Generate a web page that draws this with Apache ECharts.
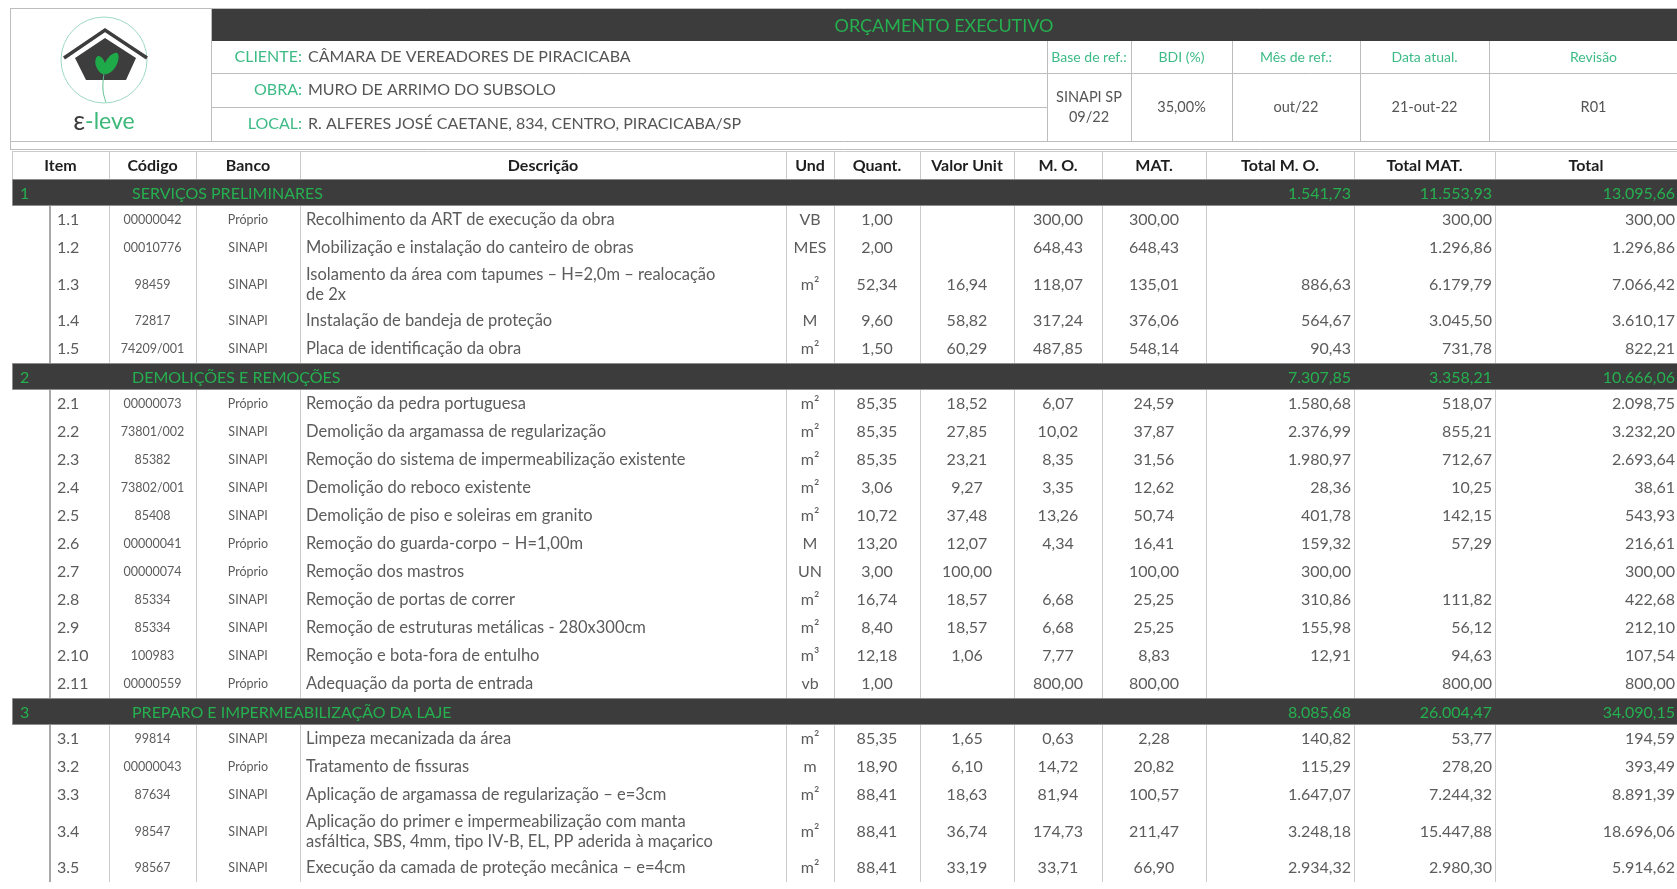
<!DOCTYPE html>
<html>
<head>
<meta charset="utf-8">
<script src="https://cdn.jsdelivr.net/npm/echarts@6/dist/echarts.min.js"></script>
<style>
html, body { margin: 0; padding: 0; background: #fff; }
#chart { width: 1677px; height: 889px; }
</style>
</head>
<body>
<div id="chart"></div>
<script>
// ---- data ----
const infoLabels = ['CLIENTE:', 'OBRA:', 'LOCAL:'];
const infoValues = ['CÂMARA DE VEREADORES DE PIRACICABA', 'MURO DE ARRIMO DO SUBSOLO', 'R. ALFERES JOSÉ CAETANE, 834, CENTRO, PIRACICABA/SP'];
const refLabels = ['Base de ref.:', 'BDI (%)', 'Mês de ref.:', 'Data atual.', 'Revisão'];
const refValues = ['SINAPI SP\n09/22', '35,00%', 'out/22', '21-out-22', 'R01'];

const headerLabels = ['Item', 'Código', 'Banco', 'Descrição', 'Und', 'Quant.', 'Valor Unit', 'M. O.', 'MAT.', 'Total M. O.', 'Total MAT.', 'Total'];

const sectionNums = [1, 2, 3];
const sectionTitles = ['SERVIÇOS PRELIMINARES', 'DEMOLIÇÕES E REMOÇÕES', 'PREPARO E IMPERMEABILIZAÇÃO DA LAJE'];
const sectionTotalMO = [1541.73, 7307.85, 8085.68];
const sectionTotalMAT = [11553.93, 3358.21, 26004.47];
const sectionTotal = [13095.66, 10666.06, 34090.15];

const itemNums = ['1.1', '1.2', '1.3', '1.4', '1.5',
    '2.1', '2.2', '2.3', '2.4', '2.5', '2.6', '2.7', '2.8', '2.9', '2.10', '2.11',
    '3.1', '3.2', '3.3', '3.4', '3.5'];
const codigos = ['00000042', '00010776', '98459', '72817', '74209/001',
    '00000073', '73801/002', '85382', '73802/001', '85408', '00000041', '00000074', '85334', '85334', '100983', '00000559',
    '99814', '00000043', '87634', '98547', '98567'];
const bancos = ['Próprio', 'SINAPI', 'SINAPI', 'SINAPI', 'SINAPI',
    'Próprio', 'SINAPI', 'SINAPI', 'SINAPI', 'SINAPI', 'Próprio', 'Próprio', 'SINAPI', 'SINAPI', 'SINAPI', 'Próprio',
    'SINAPI', 'Próprio', 'SINAPI', 'SINAPI', 'SINAPI'];
const descricoes = [
    'Recolhimento da ART de execução da obra',
    'Mobilização e instalação do canteiro de obras',
    'Isolamento da área com tapumes – H=2,0m – realocação\nde 2x',
    'Instalação de bandeja de proteção',
    'Placa de identificação da obra',
    'Remoção da pedra portuguesa',
    'Demolição da argamassa de regularização',
    'Remoção do sistema de impermeabilização existente',
    'Demolição do reboco existente',
    'Demolição de piso e soleiras em granito',
    'Remoção do guarda-corpo – H=1,00m',
    'Remoção dos mastros',
    'Remoção de portas de correr',
    'Remoção de estruturas metálicas - 280x300cm',
    'Remoção e bota-fora de entulho',
    'Adequação da porta de entrada',
    'Limpeza mecanizada da área',
    'Tratamento de fissuras',
    'Aplicação de argamassa de regularização – e=3cm',
    'Aplicação do primer e impermeabilização com manta\nasfáltica, SBS, 4mm, tipo IV-B, EL, PP aderida à maçarico',
    'Execução da camada de proteção mecânica – e=4cm'
];
const unidades = ['VB', 'MES', 'm²', 'M', 'm²',
    'm²', 'm²', 'm²', 'm²', 'm²', 'M', 'UN', 'm²', 'm²', 'm³', 'vb',
    'm²', 'm', 'm²', 'm²', 'm²'];
const quantidades = [1.00, 2.00, 52.34, 9.60, 1.50,
    85.35, 85.35, 85.35, 3.06, 10.72, 13.20, 3.00, 16.74, 8.40, 12.18, 1.00,
    85.35, 18.90, 88.41, 88.41, 88.41];
const valoresUnit = [null, null, 16.94, 58.82, 60.29,
    18.52, 27.85, 23.21, 9.27, 37.48, 12.07, 100.00, 18.57, 18.57, 1.06, null,
    1.65, 6.10, 18.63, 36.74, 33.19];
const maoObra = [300.00, 648.43, 118.07, 317.24, 487.85,
    6.07, 10.02, 8.35, 3.35, 13.26, 4.34, null, 6.68, 6.68, 7.77, 800.00,
    0.63, 14.72, 81.94, 174.73, 33.71];
const materiais = [300.00, 648.43, 135.01, 376.06, 548.14,
    24.59, 37.87, 31.56, 12.62, 50.74, 16.41, 100.00, 25.25, 25.25, 8.83, 800.00,
    2.28, 20.82, 100.57, 211.47, 66.90];
const totaisMO = [null, null, 886.63, 564.67, 90.43,
    1580.68, 2376.99, 1980.97, 28.36, 401.78, 159.32, 300.00, 310.86, 155.98, 12.91, null,
    140.82, 115.29, 1647.07, 3248.18, 2934.32];
const totaisMAT = [300.00, 1296.86, 6179.79, 3045.50, 731.78,
    518.07, 855.21, 712.67, 10.25, 142.15, 57.29, null, 111.82, 56.12, 94.63, 800.00,
    53.77, 278.20, 7244.32, 15447.88, 2980.30];
const totais = [300.00, 1296.86, 7066.42, 3610.17, 822.21,
    2098.75, 3232.20, 2693.64, 38.61, 543.93, 216.61, 300.00, 422.68, 212.10, 107.54, 800.00,
    194.59, 393.49, 8891.39, 18696.06, 5914.62];

// ---- layout ----
const W = 1677, H = 889;
const EDGES = [12, 109, 196, 300, 786, 834, 920, 1014, 1102, 1206, 1354, 1495, 1677];
const REF_X = [1047, 1131, 1232, 1360, 1489, 1698];
const TABLE_TOP = 151, HEADER_H = 28, SECTION_H = 27, ROW_H = 28, DOUBLE_H = 45;
const FONT = 'Lato, "Open Sans", sans-serif';
const GREEN = '#25b04f', LABEL_GREEN = '#3dbb86', DARK = '#3c3c3c', TXT = '#5c5c5c', LINE = '#cacaca';

function fmt(v) {
    if (v == null) return '';
    let [i, d] = v.toFixed(2).split('.');
    i = i.replace(/\B(?=(\d{3})+(?!\d))/g, '.');
    return i + ',' + d;
}

// rows: header, then each section followed by its items
const rowList = [{type: 'header'}];
sectionNums.forEach((s, si) => {
    rowList.push({type: 'section', si: si});
    itemNums.forEach((it, ii) => {
        if (it.split('.')[0] === String(s)) rowList.push({type: 'item', ii: ii});
    });
});
let yy = TABLE_TOP;
rowList.forEach(r => {
    r.y0 = yy;
    r.h = r.type === 'header' ? HEADER_H : r.type === 'section' ? SECTION_H
        : (descricoes[r.ii].indexOf('\n') >= 0 ? DOUBLE_H : ROW_H);
    yy += r.h;
});

function renderRow(params, api) {
    const r = rowList[params.dataIndex];
    const P = (x, y) => api.coord([x, y]);
    const els = [];
    const line = (x1, y1, x2, y2, stroke, w) => {
        const a = P(x1, y1), b = P(x2, y2);
        els.push({type: 'line', shape: {x1: a[0], y1: a[1], x2: b[0], y2: b[1]},
            style: {stroke: stroke || LINE, lineWidth: w || 1}});
    };
    const text = (x, y, t, o) => {
        o = o || {};
        const a = P(x, y);
        els.push({type: 'text', style: {
            text: t, x: a[0], y: a[1], fill: o.fill || TXT,
            fontSize: o.size || 16, fontFamily: FONT, fontWeight: o.weight || 'normal',
            align: o.align || 'center', textAlign: o.align || 'center',
            verticalAlign: 'middle', textVerticalAlign: 'middle', lineHeight: o.lh || 19
        }});
    };
    const cx = c => (EDGES[c] + EDGES[c + 1]) / 2;
    const y0 = r.y0, y1 = r.y0 + r.h, ym = (y0 + y1) / 2;

    if (r.type === 'header') {
        line(EDGES[0], y0 + 0.5, W, y0 + 0.5);
        for (let c = 0; c < 12; c++) line(EDGES[c] + 0.5, y0, EDGES[c] + 0.5, y1);
        headerLabels.forEach((t, c) => text(cx(c), ym + 1, t, {weight: 'bold', fill: '#1e1e1e', size: 16}));
    } else if (r.type === 'section') {
        const a = P(EDGES[0], y0), b = P(W, y1);
        els.push({type: 'rect', shape: {x: a[0] + 0.5, y: a[1] + 0.5, width: b[0] - a[0], height: b[1] - a[1] - 1},
            style: {fill: DARK, stroke: '#8c8c8c', lineWidth: 1}});
        const si = r.si;
        text(20, ym + 1, String(sectionNums[si]), {align: 'left', fill: GREEN, size: 16});
        text(132, ym + 1, sectionTitles[si], {align: 'left', fill: GREEN, size: 16});
        text(EDGES[10] - 3, ym + 1, fmt(sectionTotalMO[si]), {align: 'right', fill: GREEN, size: 16});
        text(EDGES[11] - 3, ym + 1, fmt(sectionTotalMAT[si]), {align: 'right', fill: GREEN, size: 16});
        text(EDGES[12] - 2, ym + 1, fmt(sectionTotal[si]), {align: 'right', fill: GREEN, size: 16});
    } else {
        const i = r.ii;
        line(50, y0, 50, y1, '#a9a9a9', 2);
        for (let c = 1; c < 12; c++) line(EDGES[c] + 0.5, y0, EDGES[c] + 0.5, y1);
        text(57, ym, itemNums[i], {align: 'left', size: 16});
        text(cx(1), ym, codigos[i], {size: 12.5});
        text(cx(2), ym, bancos[i], {size: 12.5});
        text(EDGES[3] + 6, ym, descricoes[i], {align: 'left', size: 16.5, lh: 20});
        text(cx(4), ym, unidades[i], {size: 16});
        text(cx(5), ym, fmt(quantidades[i]));
        text(cx(6), ym, fmt(valoresUnit[i]));
        text(cx(7), ym, fmt(maoObra[i]));
        text(cx(8), ym, fmt(materiais[i]));
        text(EDGES[10] - 3, ym, fmt(totaisMO[i]), {align: 'right'});
        text(EDGES[11] - 3, ym, fmt(totaisMAT[i]), {align: 'right'});
        text(EDGES[12] - 2, ym, fmt(totais[i]), {align: 'right'});
    }
    return {type: 'group', children: els};
}

// ---- top block (header box + logo) ----
const topBlock = [];
const gLine = (x1, y1, x2, y2, stroke, w) => topBlock.push({type: 'line', silent: true,
    shape: {x1: x1, y1: y1, x2: x2, y2: y2}, style: {stroke: stroke || '#bdbdbd', lineWidth: w || 1}});
const gText = (x, y, t, o) => topBlock.push({type: 'text', silent: true, style: {
    text: t, x: x, y: y, fill: o.fill, fontSize: o.size, fontFamily: FONT,
    align: o.align || 'center', textAlign: o.align || 'center',
    verticalAlign: 'middle', textVerticalAlign: 'middle', lineHeight: 20}});

topBlock.push({type: 'rect', silent: true, shape: {x: 211, y: 9, width: W - 211, height: 32}, style: {fill: DARK}});
gLine(10, 8.5, W, 8.5);
gLine(10.5, 8, 10.5, 150);
gLine(211.5, 8, 211.5, 142);
gLine(211, 73.5, W, 73.5);
gLine(211, 107.5, REF_X[0], 107.5);
gLine(10, 141.5, W, 141.5);
gLine(10, 149.5, W, 149.5);
REF_X.slice(0, 5).forEach(x => gLine(x + 0.5, 41, x + 0.5, 142));

gText((211 + W) / 2, 26, 'ORÇAMENTO EXECUTIVO', {fill: GREEN, size: 18});
const infoY = [57, 90, 124];
infoLabels.forEach((t, i) => gText(302, infoY[i], t, {fill: LABEL_GREEN, size: 16, align: 'right'}));
infoValues.forEach((t, i) => gText(308, infoY[i], t, {fill: '#555', size: 16, align: 'left'}));
refLabels.forEach((t, i) => gText((REF_X[i] + REF_X[i + 1]) / 2, 57, t, {fill: LABEL_GREEN, size: 14}));
refValues.forEach((t, i) => gText((REF_X[i] + REF_X[i + 1]) / 2, 107, t, {fill: '#555', size: 14.5}));

// logo
topBlock.push({type: 'circle', silent: true, shape: {cx: 104, cy: 60, r: 43},
    style: {fill: 'none', stroke: '#9ed8c6', lineWidth: 1}});
topBlock.push({type: 'polygon', silent: true,
    shape: {points: [[105, 38], [136, 58], [126, 80], [86, 80], [75, 58]]}, style: {fill: '#3d3d3d'}});
topBlock.push({type: 'polyline', silent: true,
    shape: {points: [[64, 58], [105, 30], [147, 58]]}, style: {stroke: '#3d3d3d', lineWidth: 3.5, fill: 'none'}});
topBlock.push({type: 'polygon', silent: true,
    shape: {points: [[104, 74], [96, 66], [98, 56], [105, 63]], smooth: 0.5}, style: {fill: '#1faa4a'}});
topBlock.push({type: 'polygon', silent: true,
    shape: {points: [[105, 74], [106, 61], [117, 53], [116, 66]], smooth: 0.5}, style: {fill: '#1faa4a'}});
topBlock.push({type: 'polyline', silent: true,
    shape: {points: [[104, 74], [103, 90], [106, 102]], smooth: 0.5}, style: {stroke: '#5cc08f', lineWidth: 1, fill: 'none'}});
topBlock.push({type: 'text', silent: true, style: {
    text: '{a|ε}{b|-leve}', x: 104, y: 122, align: 'center', textAlign: 'center',
    verticalAlign: 'middle', textVerticalAlign: 'middle',
    rich: {a: {fontSize: 26, fontFamily: FONT, fill: '#3d3d3d', color: '#3d3d3d'},
           b: {fontSize: 23, fontFamily: FONT, fill: '#3cb878', color: '#3cb878'}}}});

const chart = echarts.init(document.getElementById('chart'));
chart.setOption({
    animation: false,
    grid: {left: 0, right: 0, top: 0, bottom: 0},
    xAxis: {type: 'value', min: 0, max: W, show: false},
    yAxis: {type: 'value', min: 0, max: H, inverse: true, show: false},
    graphic: topBlock,
    series: [{
        type: 'custom',
        coordinateSystem: 'cartesian2d',
        silent: true,
        clip: false,
        encode: {x: 0, y: 1},
        data: rowList.map(r => [0, r.y0]),
        renderItem: renderRow
    }]
});
</script>
</body>
</html>
